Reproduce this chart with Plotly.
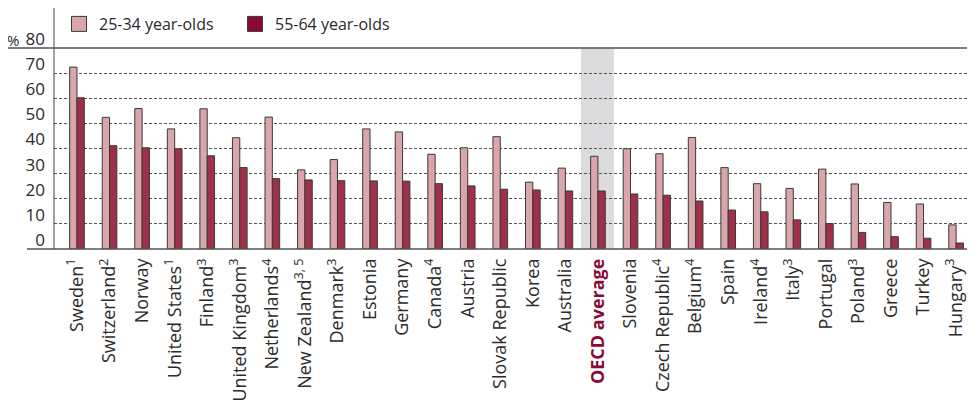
import plotly.graph_objects as go

countries = ["Sweden<sup>1</sup>", "Switzerland<sup>2</sup>", "Norway", "United States<sup>1</sup>",
             "Finland<sup>3</sup>", "United Kingdom<sup>3</sup>", "Netherlands<sup>4</sup>",
             "New Zealand<sup>3, 5</sup>", "Denmark<sup>3</sup>", "Estonia", "Germany",
             "Canada<sup>4</sup>", "Austria", "Slovak Republic", "Korea", "Australia",
             "<b><span style='color:#8b0a35'>OECD average</span></b>", "Slovenia",
             "Czech Republic<sup>4</sup>", "Belgium<sup>4</sup>", "Spain", "Ireland<sup>4</sup>",
             "Italy<sup>3</sup>", "Portugal", "Poland<sup>3</sup>", "Greece", "Turkey",
             "Hungary<sup>3</sup>"]
young = [72.4, 52.4, 55.9, 47.8, 55.8, 44.3, 52.5, 31.5, 35.6, 47.8, 46.6,
         37.7, 40.3, 44.7, 26.6, 32.2, 36.9, 39.9, 37.9, 44.4, 32.4, 26.0,
         24.1, 31.8, 25.9, 18.5, 17.9, 9.6]
old = [60.2, 41.1, 40.3, 39.9, 37.1, 32.4, 28.0, 27.5, 27.2, 27.1, 27.0,
       26.0, 25.1, 23.8, 23.5, 23.1, 23.1, 21.9, 21.4, 19.1, 15.5, 14.8,
       11.6, 10.1, 6.6, 4.9, 4.3, 2.4]
yticks = [0, 10, 20, 30, 40, 50, 60, 70, 80]
series_names = ["25-34 year-olds", "55-64 year-olds"]

idx = list(range(len(countries)))
font = "Open Sans, Noto Sans, sans-serif"
c_young, c_old, c_old_legend = "#d9a6a9", "#9e3049", "#8b0a35"
outline = "#3a3a3a"

fig = go.Figure()
fig.add_trace(go.Bar(x=idx, y=young, name=series_names[0], showlegend=False,
                     marker=dict(color=c_young, line=dict(color=outline, width=1))))
fig.add_trace(go.Bar(x=idx, y=old, name=series_names[1], showlegend=False,
                     marker=dict(color=c_old, line=dict(color=outline, width=1))))
# legend entries
for nm, col in zip(series_names, [c_young, c_old_legend]):
    fig.add_trace(go.Scatter(x=[None], y=[None], mode="markers", name=nm,
                             marker=dict(symbol="square", size=15, color=col,
                                         line=dict(color=outline, width=1))))

# the page body adds an 8px offset; lay out in page pixels
OFF = 8
W, H = 975 - OFF, 411 - OFF
PL, PT, PB = 54, 48, 249          # plot left/top/bottom in page px
L, T = PL - OFF, PT - OFF
B = H - (PB - OFF)
pw = W - L
ph = PB - PT
oecd = 16


def px_x(page_x):
    return (page_x - PL) / pw


def px_y(page_y):
    return (PB - page_y) / ph


fig.update_layout(
    width=W, height=H,
    margin=dict(l=L, r=0, t=T, b=B, pad=0, autoexpand=False),
    paper_bgcolor="white", plot_bgcolor="white",
    barmode="group", bargap=0.55, bargroupgap=0,
    font=dict(family=font, color="#2b2b2b", size=16),
    legend=dict(orientation="h", x=px_x(59), xanchor="left",
                y=px_y(24), yanchor="middle",
                font=dict(size=16, color="#2b2b2b"),
                entrywidth=131, entrywidthmode="pixels",
                bgcolor="rgba(0,0,0,0)"),
    xaxis=dict(tickmode="array", tickvals=idx, ticktext=countries,
               tickangle=-90, range=[-0.706, 27.58], showgrid=False,
               zeroline=False, showline=False, ticks="", automargin=False,
               tickfont=dict(size=18, color="#2b2b2b"), ticklabelstandoff=5),
    yaxis=dict(range=[0, 80], tickvals=yticks, showgrid=True,
               gridcolor="#555", griddash="3px,2px", gridwidth=1,
               zeroline=False, showline=False, ticks="", automargin=False,
               tickfont=dict(size=17, color="#2b2b2b"),
               ticklabelstandoff=8, ticklabelshift=-9),
    shapes=[
        dict(type="rect", xref="x", yref="paper", x0=oecd - 0.52, x1=oecd + 0.49,
             y0=0, y1=1, fillcolor="#dcdcde", line=dict(width=0), layer="below"),
        dict(type="line", xref="paper", yref="paper", x0=px_x(7), x1=1,
             y0=1, y1=1, line=dict(color="#555", width=1.5)),
        dict(type="line", xref="paper", yref="paper", x0=px_x(27), x1=1,
             y0=0, y1=0, line=dict(color="#555", width=1.5)),
        dict(type="line", xref="paper", yref="paper", x0=0, x1=0,
             y0=0, y1=px_y(7), line=dict(color="#444", width=1)),
    ],
    annotations=[
        dict(text="%", xref="paper", yref="paper", x=px_x(13), y=px_y(40),
             showarrow=False, xanchor="center", yanchor="middle",
             font=dict(size=15, color="#2b2b2b")),
    ],
)

fig.write_html("out.html")
